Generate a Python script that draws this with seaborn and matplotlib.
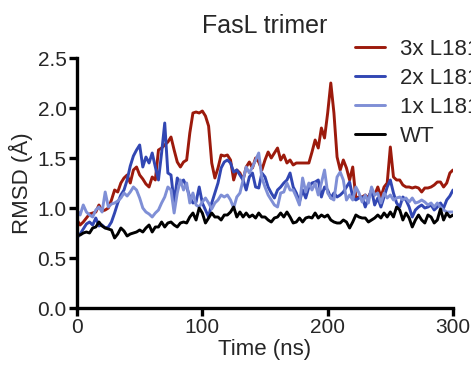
import numpy as np
import pandas as pd
import matplotlib
matplotlib.use("Agg")
import matplotlib.pyplot as plt
import seaborn as sns

time_ns = np.arange(0, 300.1, 2.5)

rmsd_3x = [0.88,0.83,0.86,0.90,0.94,0.95,0.96,1.03,0.97,0.98,1.00,1.08,1.18,1.16,1.25,1.30,1.33,1.25,1.38,1.41,1.33,1.29,1.24,1.21,
           1.31,1.28,1.58,1.60,1.63,1.66,1.71,1.58,1.46,1.41,1.46,1.48,1.75,1.95,1.96,1.95,1.97,1.92,1.82,1.45,1.30,1.40,1.53,1.52,
           1.53,1.48,1.28,1.38,1.35,1.28,1.41,1.46,1.40,1.50,1.46,1.38,1.48,1.56,1.50,1.55,1.60,1.48,1.53,1.45,1.48,1.43,1.45,1.45,
           1.45,1.45,1.45,1.56,1.68,1.60,1.80,1.70,1.95,2.25,1.95,1.51,1.38,1.48,1.40,1.28,1.41,1.10,1.11,1.11,1.13,1.10,1.18,1.13,
           1.21,1.11,1.21,1.25,1.61,1.31,1.28,1.28,1.23,1.21,1.21,1.20,1.21,1.20,1.16,1.20,1.20,1.21,1.23,1.26,1.26,1.21,1.25,1.35,1.38]

rmsd_2x = [0.70,0.74,0.79,0.84,0.86,0.83,0.90,0.82,0.83,0.80,0.81,0.86,0.95,1.05,1.13,1.18,1.28,1.42,1.52,1.58,1.63,1.41,1.51,1.45,
           1.55,1.41,1.28,1.55,1.85,1.35,1.33,1.05,1.30,1.25,1.28,1.21,1.11,1.05,1.06,1.21,1.05,0.98,0.91,1.05,1.15,1.25,1.40,1.46,
           1.48,1.45,1.36,1.38,1.33,1.28,1.18,1.31,1.35,1.21,1.20,1.35,1.31,1.21,1.15,1.10,1.18,1.21,1.25,1.28,1.35,1.21,1.15,1.06,
           1.18,1.10,1.21,1.25,1.26,1.28,1.11,1.21,1.18,1.10,1.15,1.11,1.13,1.16,1.21,1.26,1.11,1.08,1.10,1.11,1.01,1.10,1.18,1.03,
           1.10,1.01,1.11,1.21,1.28,1.15,1.05,1.01,1.11,1.08,1.01,0.91,0.98,1.01,1.03,1.00,1.01,1.03,0.98,1.01,1.05,1.00,1.08,1.12,1.18]

rmsd_1x = [0.98,0.93,1.03,0.96,0.93,0.91,0.98,1.01,0.96,1.16,1.01,1.04,1.05,1.07,1.10,1.15,1.12,1.16,1.21,1.18,1.10,1.00,0.96,0.94,
           0.91,0.95,0.98,1.05,1.11,1.21,1.18,0.95,1.15,1.28,1.18,1.25,1.05,1.15,1.03,1.01,1.06,1.10,1.05,0.99,1.05,1.08,1.13,1.11,
           1.13,1.08,1.00,1.11,1.15,1.28,1.41,1.35,1.41,1.48,1.55,1.30,1.21,1.13,1.08,1.03,1.01,1.15,1.16,1.25,1.18,1.18,1.11,1.03,
           1.30,1.16,1.25,1.18,1.25,1.13,1.25,1.38,1.15,1.10,1.08,1.31,1.36,1.28,1.08,1.13,1.08,1.21,1.15,1.06,1.13,1.05,1.21,1.13,
           1.15,1.05,1.15,1.10,1.13,1.08,1.10,1.11,1.08,1.10,1.06,1.10,1.05,1.06,1.08,1.06,1.03,1.05,1.01,1.05,1.01,0.98,0.96,0.96,0.96]

rmsd_wt = [0.73,0.73,0.75,0.76,0.75,0.80,0.81,0.86,0.82,0.80,0.79,0.78,0.70,0.74,0.80,0.77,0.72,0.74,0.75,0.76,0.78,0.76,0.80,0.83,
           0.76,0.81,0.81,0.86,0.81,0.85,0.86,0.83,0.81,0.85,0.86,0.85,0.91,0.95,0.88,1.00,0.95,0.85,0.90,0.95,0.91,0.91,0.88,0.93,
           0.93,0.96,1.01,0.91,0.96,0.91,0.95,0.91,0.93,0.90,0.95,0.91,0.91,0.88,0.86,0.90,0.91,0.95,0.91,0.96,0.91,0.85,0.86,0.90,
           0.86,0.90,0.91,0.90,0.95,0.90,0.93,0.91,0.93,0.88,0.86,0.85,0.85,0.88,0.86,0.80,0.86,0.93,0.91,0.90,0.90,0.86,0.88,0.90,
           0.93,0.90,0.95,0.91,0.96,0.91,1.01,0.98,0.88,0.95,0.90,0.81,0.88,0.93,0.88,0.85,0.93,0.91,0.85,0.88,0.99,0.88,0.95,0.91,0.93]

series_names = ["3x L181", "2x L181", "1x L181", "WT"]
series_colors = ["#9c1a0c", "#3247b3", "#7f8fd6", "#000000"]
x_ticks = [0, 100, 200, 300]
y_ticks = [0.0, 0.5, 1.0, 1.5, 2.0, 2.5]

frames = []
for name, vals in zip(series_names, [rmsd_3x, rmsd_2x, rmsd_1x, rmsd_wt]):
    frames.append(pd.DataFrame({"Time": time_ns, "RMSD": vals, "Series": name}))
df = pd.concat(frames, ignore_index=True)

sns.set_style("ticks")
plt.rcParams["font.family"] = ["Liberation Sans", "DejaVu Sans"]

fig = plt.figure(figsize=(4.71, 3.73), dpi=100)
ax = fig.add_axes([77/471, 1 - 308/373, 376/471, 250/373])

sns.lineplot(data=df, x="Time", y="RMSD", hue="Series", hue_order=series_names,
             palette=dict(zip(series_names, series_colors)), linewidth=2.1, ax=ax,
             legend=True)

ax.set_xlim(0, 300)
ax.set_ylim(0, 2.5)
ax.set_xticks(x_ticks)
ax.set_yticks(y_ticks)
ax.set_yticklabels([f"{v:.1f}" for v in y_ticks])
ax.tick_params(axis="both", which="major", length=6, width=2.4, labelsize=15, direction="out", color="black", pad=1.5)
for side in ["left", "bottom"]:
    ax.spines[side].set_linewidth(2.4)
    ax.spines[side].set_color("black")
sns.despine(ax=ax)
ax.set_xlabel("Time (ns)", fontsize=16, labelpad=1)
ax.set_ylabel("RMSD (Å)", fontsize=16, labelpad=3)
ax.set_title("FasL trimer", fontsize=18, pad=18)

handles, labels = ax.get_legend_handles_labels()
leg = ax.legend(handles, labels, loc="upper left", bbox_to_anchor=(355/471, 1 - 39/373),
                bbox_transform=fig.transFigure, frameon=False, fontsize=16,
                handlelength=1.35, handletextpad=0.68, labelspacing=0.36, borderpad=0, borderaxespad=0)
for line in leg.get_lines():
    line.set_linewidth(2.1)

fig.savefig("out.png", dpi=100)
